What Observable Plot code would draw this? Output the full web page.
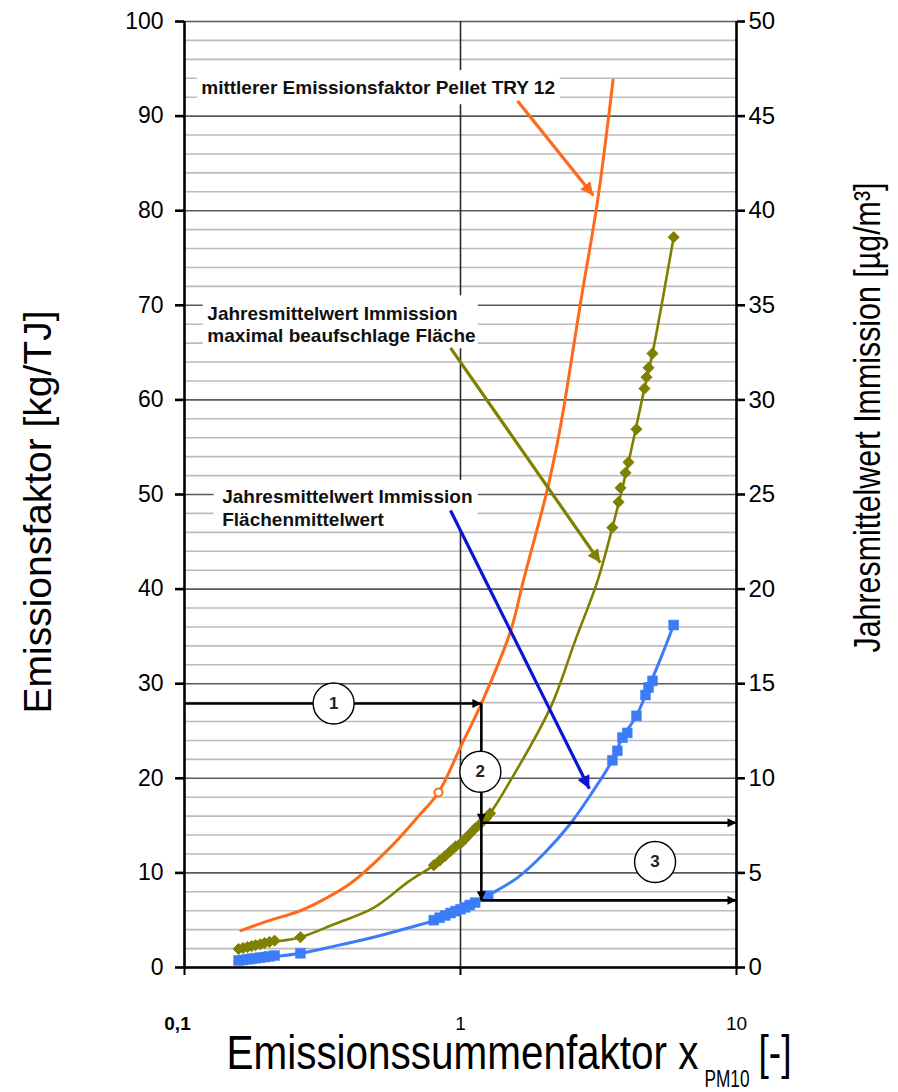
<!DOCTYPE html>
<html>
<head>
<meta charset="utf-8">
<script src="https://cdn.jsdelivr.net/npm/d3@7"></script>
<script src="https://cdn.jsdelivr.net/npm/@observablehq/plot@0.6"></script>
<style>
  html, body { margin: 0; padding: 0; background: #fff; }
</style>
</head>
<body>
<div id="chart"></div>
<script>
// ---------- axes / ticks ----------
const xTicks = [0.1, 1, 10];
const xTickLabels = ["0,1", "1", "10"];
const leftTicks = d3.range(0, 101, 10);          // Emissionsfaktor [kg/TJ]
const rightTicks = d3.range(0, 51, 5);           // Jahresmittelwert Immission [µg/m³]
const minorTicks = d3.range(0, 101, 2);

const leftTitle = "Emissionsfaktor [kg/TJ]";
const rightTitle = "Jahresmittelwert Immission [µg/m³]";
const bottomTitle = "Emissionssummenfaktor x";
const bottomSub = "PM10";
const bottomUnit = "[-]";

// ---------- series ----------
// mittlerer Emissionsfaktor Pellet TRY 12 (left axis, kg/TJ)
const orangeX = [0.16, 0.2, 0.263, 0.32, 0.40, 0.557, 0.70, 0.832, 1.0, 1.19, 1.52, 1.69, 2.07, 2.30, 2.72, 3.14, 3.57];
const orangeY = [3.9, 4.9, 6.0, 7.2, 8.9, 12.7, 15.9, 18.5, 23.3, 27.9, 35.6, 40.9, 50.7, 57.1, 70.2, 81.1, 93.8];
const orangeMarkX = [0.832];
const orangeMarkY = [18.5];

// Jahresmittelwert Immission, maximal beaufschlagte Fläche (right axis, µg/m³)
const greenX = [0.156, 0.2, 0.263, 0.35, 0.484, 0.65, 0.80, 1.0, 1.18, 1.28, 1.52, 2.12, 2.6, 3.14, 3.55, 4.06, 4.64, 4.96, 5.92];
const greenY = [0.98, 1.3, 1.6, 2.3, 3.15, 4.55, 5.4, 6.55, 7.6, 8.15, 9.9, 13.75, 17.25, 20.45, 23.25, 26.7, 30.6, 32.45, 38.6];
const greenMarkX = [0.157, 0.163, 0.169, 0.175, 0.181, 0.188, 0.195, 0.203, 0.212, 0.263,
  0.80, 0.84, 0.88, 0.92, 0.96, 1.0, 1.04, 1.08, 1.13, 1.18, 1.24, 1.28,
  3.55, 3.74, 3.80, 3.96, 4.06, 4.34, 4.64, 4.72, 4.80, 4.96, 5.92];
const greenMarkY = [0.98, 1.03, 1.08, 1.13, 1.18, 1.23, 1.29, 1.35, 1.42, 1.6,
  5.4, 5.65, 5.9, 6.15, 6.4, 6.55, 6.8, 7.05, 7.35, 7.6, 7.9, 8.15,
  23.25, 24.6, 25.35, 26.15, 26.7, 28.45, 30.6, 31.2, 31.7, 32.45, 38.6];

// Jahresmittelwert Immission, Flächenmittelwert (right axis, µg/m³)
const blueX = [0.156, 0.2, 0.263, 0.35, 0.484, 0.65, 0.846, 1.0, 1.15, 1.26, 1.61, 2.0, 2.5, 3.03, 3.55, 3.86, 4.34, 4.80, 5.3, 5.92];
const blueY = [0.37, 0.53, 0.75, 1.13, 1.6, 2.1, 2.6, 3.08, 3.43, 3.8, 4.75, 6.0, 7.6, 9.35, 10.95, 12.15, 13.3, 14.8, 16.3, 18.1];
const blueMarkX = [0.157, 0.163, 0.169, 0.175, 0.181, 0.188, 0.195, 0.203, 0.212, 0.263,
  0.80, 0.84, 0.88, 0.92, 0.96, 1.0, 1.04, 1.08, 1.13, 1.26,
  3.55, 3.70, 3.86, 4.02, 4.34, 4.68, 4.80, 4.96, 5.92];
const blueMarkY = [0.37, 0.40, 0.43, 0.46, 0.49, 0.52, 0.55, 0.59, 0.63, 0.75,
  2.5, 2.63, 2.75, 2.88, 2.98, 3.08, 3.18, 3.3, 3.43, 3.8,
  10.95, 11.45, 12.15, 12.4, 13.3, 14.4, 14.8, 15.15, 18.1];

// ---------- annotations ----------
const labelText = [
  "mittlerer Emissionsfaktor Pellet TRY 12",
  "Jahresmittelwert Immission\nmaximal beaufschlage Fläche",
  "Jahresmittelwert Immission\nFlächenmittelwert"
];
const labelX = [0.115, 0.121, 0.137];
const labelY = [93.0, 68.0, 48.7];
const boxX1 = [0.1115, 0.117, 0.128];
const boxX2 = [2.30, 1.16, 1.16];
const boxY1 = [91.2, 65.4, 46.2];
const boxY2 = [94.8, 71.0, 51.5];

const pointerX1 = [1.61, 0.92, 0.92];
const pointerY1 = [91.6, 65.5, 48.3];
const pointerX2 = [3.03, 3.21, 2.93];
const pointerY2 = [81.6, 42.8, 18.9];
const pointerColor = ["#ff6a1a", "#7f8000", "#0b14d6"];

// reading example: x_PM10 → emission factor → immission values
const readX = 1.19;      // [-]
const readEF = 27.9;     // kg/TJ
const readMax = 7.65;    // µg/m³
const readMean = 3.55;   // µg/m³

const circleX = [0.347, 1.18, 5.07];
const circleY = [27.9, 20.7, 11.15];
const circleText = ["1", "2", "3"];

// ---------- build tables ----------
const scaleRatio = leftTicks[leftTicks.length - 1] / rightTicks[rightTicks.length - 1]; // µg → kg/TJ axis position
const zip = (xs, ys) => xs.map((x, i) => ({x, y: ys[i]}));
const orange = zip(orangeX, orangeY);
const orangeMarks = zip(orangeMarkX, orangeMarkY);
const green = zip(greenX, greenY);
const greenMarks = zip(greenMarkX, greenMarkY);
const blue = zip(blueX, blueY);
const blueMarks = zip(blueMarkX, blueMarkY);
const labels = labelText.map((t, i) => ({text: t, x: labelX[i], y: labelY[i]}));
const boxes = boxX1.map((x1, i) => ({x1, x2: boxX2[i], y1: boxY1[i], y2: boxY2[i]}));
const pointers = pointerX1.map((x1, i) => ({x1, y1: pointerY1[i], x2: pointerX2[i], y2: pointerY2[i], c: pointerColor[i]}));
const flow = [
  {x1: xTicks[0], y1: readEF, x2: readX, y2: readEF},
  {x1: readX, y1: readEF, x2: readX, y2: readMax * scaleRatio},
  {x1: readX, y1: readMax * scaleRatio, x2: readX, y2: readMean * scaleRatio},
  {x1: readX, y1: readMax * scaleRatio, x2: xTicks[2], y2: readMax * scaleRatio},
  {x1: readX, y1: readMean * scaleRatio, x2: xTicks[2], y2: readMean * scaleRatio}
];
const circles = circleX.map((x, i) => ({x, y: circleY[i], t: circleText[i]}));
const xLabs = xTicks.map((v, i) => ({v, t: xTickLabels[i]}));

const FONT = "'Liberation Sans', Arial, Helvetica, sans-serif";
const NARROW = "'Liberation Sans Narrow', 'Arial Narrow', 'Liberation Sans', Arial, sans-serif";
const ORANGE = "#ff6a1a", OLIVE = "#7f8000", BLUE = "#3c7cf8";

const chart = Plot.plot({
  width: 898,
  height: 1092,
  marginLeft: 184,
  marginRight: 162,
  marginTop: 21,
  marginBottom: 125,
  x: {type: "log", domain: [0.1, 10]},
  y: {domain: [0, 100]},
  style: {fontFamily: FONT, background: "white", color: "black"},
  marks: [
    // grid
    Plot.ruleY(minorTicks.filter(v => v % 10 !== 0), {stroke: "#bcbcbc", strokeWidth: 1.6}),
    Plot.ruleY(leftTicks, {stroke: "#5a5a5a", strokeWidth: 1.6}),
    Plot.ruleX([xTicks[1]], {stroke: "#2a2a2a", strokeWidth: 1.6}),
    // label backgrounds
    Plot.rect(boxes, {x1: "x1", x2: "x2", y1: "y1", y2: "y2", fill: "white"}),
    // axis lines
    Plot.ruleX([xTicks[0], xTicks[2]], {stroke: "black", strokeWidth: 2.6}),
    Plot.ruleY([0], {stroke: "black", strokeWidth: 2.6}),
    // curves
    Plot.line(orange, {x: "x", y: "y", stroke: ORANGE, strokeWidth: 3, curve: "catmull-rom"}),
    Plot.line(green, {x: "x", y: d => d.y * scaleRatio, stroke: OLIVE, strokeWidth: 2.6, curve: "catmull-rom"}),
    Plot.line(blue, {x: "x", y: d => d.y * scaleRatio, stroke: BLUE, strokeWidth: 3, curve: "catmull-rom"}),
    Plot.dot(greenMarks, {x: "x", y: d => d.y * scaleRatio, symbol: "diamond2", r: 5, fill: OLIVE, stroke: OLIVE, strokeWidth: 1}),
    Plot.dot(blueMarks, {x: "x", y: d => d.y * scaleRatio, symbol: "square", r: 5.6, fill: BLUE, stroke: BLUE, strokeWidth: 0.5}),
    Plot.dot(orangeMarks, {x: "x", y: "y", r: 4, fill: "white", stroke: ORANGE, strokeWidth: 2}),
    // reading example
    Plot.link(flow, {x1: "x1", y1: "y1", x2: "x2", y2: "y2", stroke: "black", strokeWidth: 2.6, ariaDescription: "flow"}),
    Plot.dot(circles, {x: "x", y: "y", r: 20.5, fill: "white", stroke: "black", strokeWidth: 1.4}),
    Plot.text(circles, {x: "x", y: "y", text: "t", fontSize: 17, fontWeight: "bold", fill: "#222"}),
    // pointer arrows
    Plot.link(pointers, {x1: "x1", y1: "y1", x2: "x2", y2: "y2", stroke: d => d.c, strokeWidth: 3.2, ariaDescription: "pointer"}),
    // labels
    Plot.text(labels.slice(0, 1), {x: "x", y: "y", text: "text", textAnchor: "start", fontSize: 19, fontWeight: "bold", fill: "#111"}),
    Plot.text(labels.slice(1, 2), {x: "x", y: "y", text: "text", textAnchor: "start", fontSize: 19, fontWeight: "bold", fill: "#111", lineHeight: 1.12}),
    Plot.text(labels.slice(2, 3), {x: "x", y: "y", text: "text", textAnchor: "start", fontSize: 19, fontWeight: "bold", fill: "#111", lineHeight: 1.22}),
    // axes
    Plot.axisY(leftTicks, {anchor: "left", tickSize: 9, tickPadding: 12, fontSize: 23, strokeWidth: 2.6, label: null}),
    Plot.axisY(leftTicks, {anchor: "right", tickSize: 8, tickPadding: 4, fontSize: 24, strokeWidth: 2.6, label: null,
      tickFormat: d => String(d / scaleRatio)}),
    Plot.axisX(xTicks, {tickSize: 8, tickFormat: () => "", strokeWidth: 2, label: null}),
    Plot.text(xLabs.slice(0, 1), {x: "v", text: "t", frameAnchor: "bottom", dy: 62, dx: -7, fontSize: 19, fontWeight: "bold"}),
    Plot.text(xLabs.slice(1), {x: "v", text: "t", frameAnchor: "bottom", dy: 62, fontSize: 19}),
    // titles
    Plot.text([leftTitle], {text: d => d, frameAnchor: "left", textAnchor: "start", dx: -146, dy: 219, rotate: -90, fontSize: 38, fontFamily: FONT}),
    Plot.text([rightTitle], {text: d => d, frameAnchor: "right", textAnchor: "start", dx: 132, dy: 158, rotate: -90, fontSize: 37, fontFamily: NARROW}),
    Plot.text([bottomTitle], {text: d => d, frameAnchor: "bottom-left", textAnchor: "start", dx: 42, dy: 101, fontSize: 48, fontFamily: NARROW}),
    Plot.text([bottomSub], {text: d => d, frameAnchor: "bottom-left", textAnchor: "start", dx: 520, dy: 119, fontSize: 23, fontFamily: NARROW}),
    Plot.text([bottomUnit], {text: d => d, frameAnchor: "bottom-left", textAnchor: "start", dx: 574, dy: 101, fontSize: 48, fontFamily: NARROW})
  ]
});

// fit title widths to the reference (condensed lettering)
const fit = {[leftTitle]: 403, [rightTitle]: 470, [bottomTitle]: 472, [bottomSub]: 45, [bottomUnit]: 33};
chart.querySelectorAll("text").forEach(t => {
  const w = fit[t.textContent];
  if (w) { t.setAttribute("textLength", w); t.setAttribute("lengthAdjust", "spacingAndGlyphs"); }
});

// filled arrowheads (SVG markers on the link paths)
const NS = "http://www.w3.org/2000/svg";
const defs = document.createElementNS(NS, "defs");
chart.insertBefore(defs, chart.firstChild);
function addHead(id, color, len, wid) {
  const m = document.createElementNS(NS, "marker");
  m.setAttribute("id", id);
  m.setAttribute("viewBox", "0 0 10 10");
  m.setAttribute("refX", "10");
  m.setAttribute("refY", "5");
  m.setAttribute("markerUnits", "userSpaceOnUse");
  m.setAttribute("markerWidth", String(len));
  m.setAttribute("markerHeight", String(wid));
  m.setAttribute("orient", "auto");
  const p = document.createElementNS(NS, "path");
  p.setAttribute("d", "M0,0L10,5L0,10Z");
  p.setAttribute("fill", color);
  p.setAttribute("stroke", "none");
  m.appendChild(p);
  defs.appendChild(m);
}
let linkGroups = Array.from(chart.querySelectorAll('g[aria-label="link"]'));
let flowG = chart.querySelector('g[aria-description="flow"]') || linkGroups[0];
let ptrG = chart.querySelector('g[aria-description="pointer"]') || linkGroups[1];
addHead("flowhead", "black", 13, 9);
if (flowG) flowG.querySelectorAll("path").forEach(p => p.setAttribute("marker-end", "url(#flowhead)"));
if (ptrG) ptrG.querySelectorAll("path").forEach((p, i) => {
  addHead("ptr" + i, pointers[i].c, 18, 13);
  p.setAttribute("marker-end", `url(#ptr${i})`);
});

document.getElementById("chart").appendChild(chart);
</script>
</body>
</html>
